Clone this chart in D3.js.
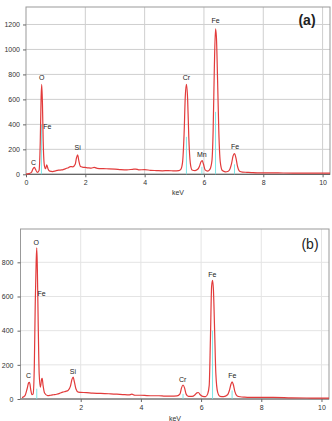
<!DOCTYPE html>
<html>
<head>
<meta charset="utf-8">
<script src="https://cdn.jsdelivr.net/npm/d3@7/dist/d3.min.js"></script>
<style>
  body { margin: 0; background: #fff; }
  svg text { font-family: "Liberation Sans", Arial, sans-serif; }
</style>
</head>
<body>
<div id="chart-area"></div>
<script>
// EDS spectra, two panels: (a) and (b)
// X = energy (keV), Y = counts

// ---- panel (a) data ----
var keVA = [0, 0.1, 0.18, 0.24, 0.28, 0.32, 0.38, 0.44, 0.48, 0.51,
    0.53, 0.555, 0.58, 0.62, 0.66, 0.7, 0.74, 0.8, 0.9, 1.0,
    1.1, 1.2, 1.3, 1.4, 1.5, 1.58, 1.66, 1.7, 1.74, 1.78,
    1.83, 1.9, 2.0, 2.1, 2.2, 2.3, 2.4, 2.6, 2.8, 3.0,
    3.2, 3.4, 3.6, 3.7, 3.8, 4.0, 4.2, 4.4, 4.6, 4.8,
    5.0, 5.15, 5.22, 5.28, 5.33, 5.37, 5.41, 5.45, 5.49, 5.54,
    5.6, 5.7, 5.79, 5.85, 5.9, 5.94, 5.98, 6.04, 6.12, 6.2,
    6.27, 6.31, 6.35, 6.39, 6.42, 6.46, 6.5, 6.55, 6.62, 6.72,
    6.82, 6.88, 6.93, 6.98, 7.03, 7.08, 7.13, 7.2, 7.3, 7.45,
    7.6, 7.8, 8.0, 8.5, 9.0, 9.5, 10.0, 10.25];
var countsA = [2, 5, 15, 45, 55, 40, 15, 30, 250, 620,
    720, 560, 260, 70, 45, 75, 45, 25, 22, 28,
    33, 35, 42, 50, 62, 60, 80, 130, 155, 110,
    65, 58, 55, 52, 50, 55, 48, 45, 44, 42,
    38, 36, 40, 42, 36, 37, 32, 30, 28, 30,
    27, 30, 40, 100, 320, 620, 720, 600, 290, 90,
    35, 30, 40, 65, 100, 110, 85, 35, 25, 40,
    110, 350, 850, 1165, 1100, 750, 350, 100, 30, 20,
    25, 45, 85, 145, 165, 130, 65, 25, 18, 16,
    14, 12, 12, 11, 10, 10, 9, 9];
var peakNamesA = ["C", "O", "Fe", "Si", "Cr", "Mn", "Fe", "Fe"];
var peakKeVA = [0.25, 0.53, 0.72, 1.74, 5.41, 5.93, 6.39, 7.05];
var peakLabelYA = [93, 770, 378, 213, 770, 154, 1229, 218];
var markerKeVA = [0.52, 5.41, 5.93, 6.39, 7.03];
var markerTopA = [400, 300, 60, 500, 80];
var xTicksA = [0, 2, 4, 6, 8, 10];
var yTicksA = [0, 200, 400, 600, 800, 1000, 1200];

// ---- panel (b) data ----
var keVB = [0.05, 0.15, 0.22, 0.27, 0.3, 0.34, 0.38, 0.42, 0.46, 0.49,
    0.52, 0.54, 0.56, 0.59, 0.62, 0.66, 0.7, 0.72, 0.75, 0.8,
    0.9, 1.0, 1.1, 1.2, 1.3, 1.4, 1.5, 1.58, 1.66, 1.71,
    1.75, 1.79, 1.84, 1.92, 2.0, 2.2, 2.4, 2.6, 2.8, 3.0,
    3.2, 3.4, 3.6, 3.7, 3.8, 4.0, 4.2, 4.4, 4.6, 4.8,
    5.0, 5.2, 5.3, 5.35, 5.4, 5.45, 5.5, 5.58, 5.7, 5.8,
    5.86, 5.91, 5.97, 6.05, 6.15, 6.22, 6.27, 6.31, 6.35, 6.38,
    6.41, 6.45, 6.49, 6.55, 6.63, 6.75, 6.88, 6.94, 6.99, 7.03,
    7.07, 7.12, 7.2, 7.3, 7.45, 7.6, 7.8, 8.0, 8.4, 9.0,
    9.5, 10.0, 10.25];
var countsB = [8, 20, 60, 95, 98, 55, 25, 30, 200, 560,
    800, 885, 760, 420, 150, 70, 115, 121, 80, 35,
    20, 22, 25, 28, 33, 40, 45, 50, 75, 115,
    128, 100, 60, 40, 39, 37, 34, 33, 32, 30,
    28, 26, 24, 28, 22, 22, 20, 19, 19, 17,
    17, 18, 30, 65, 82, 65, 30, 15, 15, 25,
    36, 38, 25, 15, 14, 30, 80, 350, 660, 695,
    640, 400, 150, 40, 15, 14, 25, 50, 85, 101,
    85, 45, 18, 13, 11, 10, 10, 9, 10, 7,
    6, 5, 5];
var peakNamesB = ["C", "O", "Fe", "Si", "Cr", "Fe", "Fe"];
var peakKeVB = [0.27, 0.52, 0.7, 1.74, 5.39, 6.37, 7.04];
var peakLabelYB = [136, 910, 614, 156, 111, 725, 134];
var markerKeVB = [0.54, 5.4, 6.38, 7.03];
var markerTopB = [60, 30, 400, 50];
var xTicksB = [2, 4, 6, 8, 10];
var yTicksB = [0, 200, 400, 600, 800];

var svg = d3.select("#chart-area")
    .append("svg")
        .attr("width", 332)
        .attr("height", 421);

function drawPanel(p) {
    var x = d3.scaleLinear().domain([0, 10.25]).range([p.left, p.right]);
    var y = d3.scaleLinear().domain([0, p.yMax]).range([p.bottom, p.top]);
    var g = svg.append("g");

    // grid
    g.selectAll(".gx").data(p.xTicks.filter(d => d > 0)).enter()
        .append("line")
        .attr("x1", d => x(d)).attr("x2", d => x(d))
        .attr("y1", p.top).attr("y2", p.bottom)
        .attr("stroke", p.grid).attr("stroke-width", 1);
    g.selectAll(".gy").data(p.yTicks.filter(d => d > 0)).enter()
        .append("line")
        .attr("x1", p.left).attr("x2", p.right)
        .attr("y1", d => y(d)).attr("y2", d => y(d))
        .attr("stroke", p.grid).attr("stroke-width", 1);

    // frame
    g.append("rect")
        .attr("x", p.left).attr("y", p.top)
        .attr("width", p.right - p.left).attr("height", p.bottom - p.top)
        .attr("fill", "none").attr("stroke", p.frame).attr("stroke-width", 1);
    g.append("line")
        .attr("x1", p.left).attr("x2", p.right)
        .attr("y1", p.bottom).attr("y2", p.bottom)
        .attr("stroke", "#666").attr("stroke-width", 1.2);

    // axes
    var yAxis = g.append("g")
        .attr("transform", "translate(" + p.left + ",0)")
        .call(d3.axisLeft(y).tickValues(p.yTicks).tickFormat(d3.format("d"))
            .tickSize(3).tickPadding(p.yPad));
    var xAxis = g.append("g")
        .attr("transform", "translate(0," + p.bottom + ")")
        .call(d3.axisBottom(x).tickValues(p.xTicks).tickFormat(d3.format("d"))
            .tickSize(3).tickPadding(3));
    [xAxis, yAxis].forEach(a => {
        a.select(".domain").remove();
        a.selectAll("line").attr("stroke", "#666");
        a.selectAll("text").attr("font-size", "7px").attr("fill", "#333")
            .attr("font-family", "Liberation Sans, Arial, sans-serif");
    });

    // peak markers
    g.selectAll(".mk").data(p.markerKeV).enter()
        .append("line")
        .attr("x1", d => x(d)).attr("x2", d => x(d))
        .attr("y1", y(0)).attr("y2", (d, i) => y(p.markerTop[i]))
        .attr("stroke", "#6fe3e3").attr("stroke-width", 0.9);

    // spectrum
    var pts = p.keV.map((k, i) => [k, p.counts[i]]);
    var line = d3.line()
        .x(d => x(d[0])).y(d => y(d[1]))
        .curve(d3.curveMonotoneX);
    g.append("path").datum(pts)
        .attr("d", line)
        .attr("fill", "none").attr("stroke", "#e23b3b").attr("stroke-width", 1.2);

    // peak labels
    g.selectAll(".pl").data(p.peakNames).enter()
        .append("text")
        .attr("x", (d, i) => x(p.peakKeV[i]))
        .attr("y", (d, i) => y(p.peakLabelY[i]))
        .attr("text-anchor", "middle")
        .attr("dominant-baseline", "middle")
        .attr("font-size", "7px")
        .attr("fill", "#222")
        .text(d => d);

    // axis label
    g.append("text")
        .attr("x", p.keVLabel[0]).attr("y", p.keVLabel[1])
        .attr("text-anchor", "middle")
        .attr("dominant-baseline", "middle")
        .attr("font-size", "7px").attr("fill", "#333")
        .text("keV");

    // panel tag
    g.append("text")
        .attr("x", p.tag[0]).attr("y", p.tag[1])
        .attr("text-anchor", "middle")
        .attr("dominant-baseline", "middle")
        .attr("font-size", "14px")
        .attr("font-weight", p.tagWeight)
        .attr("fill", "#222")
        .text(p.tagText);
}

drawPanel({
    left: 26, right: 330, top: 7, bottom: 174.3, yMax: 1340,
    keV: keVA, counts: countsA,
    peakNames: peakNamesA, peakKeV: peakKeVA, peakLabelY: peakLabelYA,
    markerKeV: markerKeVA, markerTop: markerTopA,
    xTicks: xTicksA, yTicks: yTicksA, yPad: 3,
    grid: "#cfcfcf", frame: "#999",
    keVLabel: [178, 193], tag: [307, 21], tagText: "(a)", tagWeight: "bold"
});

drawPanel({
    left: 20.5, right: 329, top: 229, bottom: 399, yMax: 995,
    keV: keVB, counts: countsB,
    peakNames: peakNamesB, peakKeV: peakKeVB, peakLabelY: peakLabelYB,
    markerKeV: markerKeVB, markerTop: markerTopB,
    xTicks: xTicksB, yTicks: yTicksB, yPad: 4,
    grid: "#e4e4e4", frame: "#999",
    keVLabel: [175, 419], tag: [310, 245.7], tagText: "(b)", tagWeight: "normal"
});
</script>
</body>
</html>
